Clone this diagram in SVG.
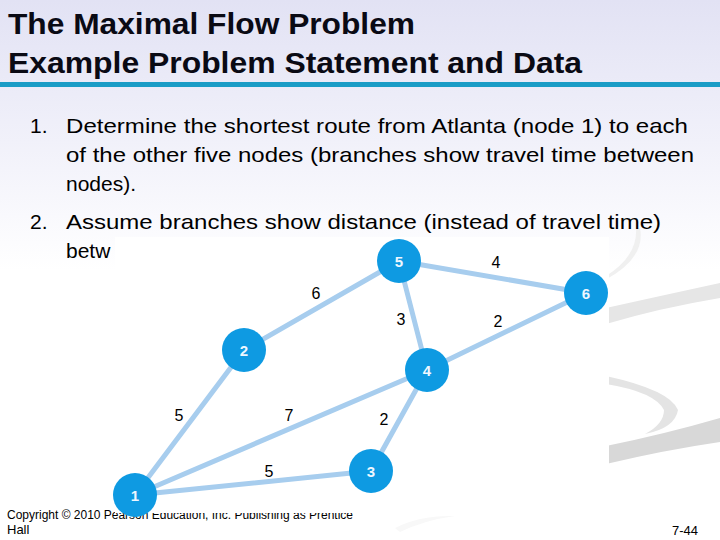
<svg xmlns="http://www.w3.org/2000/svg" width="720" height="540" viewBox="0 0 720 540">
<defs>
<linearGradient id="bg" x1="0" y1="0" x2="0" y2="540" gradientUnits="userSpaceOnUse">
<stop offset="0" stop-color="#e2e2f4"/>
<stop offset="0.4" stop-color="#f9f9fd"/>
<stop offset="0.5" stop-color="#ffffff"/>
</linearGradient>
<style>
.title{font-family:"Liberation Sans",Arial,sans-serif;font-weight:bold;font-size:29px;fill:#0a0a14}
.body{font-family:"Liberation Sans",Arial,sans-serif;font-size:21px;fill:#000}
.small{font-family:"Liberation Sans",Arial,sans-serif;font-size:13px;fill:#000}
.edge{stroke:#a7cdee;stroke-width:5;fill:none;stroke-linecap:round}
.node circle{fill:#0e9ae2}
.node text{font-family:"Liberation Sans",Arial,sans-serif;font-weight:bold;font-size:15px;fill:#eef7ff;text-anchor:middle}
.lbl{font-family:"Liberation Sans",Arial,sans-serif;font-size:16px;fill:#000;text-anchor:middle}
</style>
</defs>
<rect x="0" y="0" width="720" height="540" fill="url(#bg)"/>
<!-- decorative swoosh -->
<g id="swoosh">
<path d="M640 228 Q646 258 605 280 L606 276 Q638 256 636 228 Z" fill="#f0f0f0"/>
<path d="M606 308 Q660 296 720 283 L720 298 Q660 308 606 324 Z" fill="#e6e6e6"/>
<path d="M606 376 Q670 390 678 410 Q675 428 645 434 Q664 424 664 410 Q655 392 606 384 Z" fill="#e4e4e4"/>
<path d="M606 446 Q665 434 720 418 L720 442 Q665 450 606 464 Z" fill="#d8d8d8"/>
<path d="M395 528 Q420 515 455 516 Q425 520 400 532 Z" fill="#f8f8f8"/>
</g>
<!-- title -->
<text class="title" x="8" y="34" textLength="407" lengthAdjust="spacingAndGlyphs">The Maximal Flow Problem</text>
<text class="title" x="8" y="73" textLength="574" lengthAdjust="spacingAndGlyphs">Example Problem Statement and Data</text>
<rect x="0" y="82" width="720" height="5" fill="#1a9cc6"/>
<!-- body -->
<text class="body" x="30" y="133">1.</text>
<text class="body" x="66" y="133" textLength="622" lengthAdjust="spacingAndGlyphs">Determine the shortest route from Atlanta (node 1) to each</text>
<text class="body" x="66" y="162" textLength="628" lengthAdjust="spacingAndGlyphs">of the other five nodes (branches show travel time between</text>
<text class="body" x="66" y="191">nodes).</text>
<text class="body" x="30" y="229">2.</text>
<text class="body" x="66" y="229" textLength="595" lengthAdjust="spacingAndGlyphs">Assume branches show distance (instead of travel time)</text>
<text class="body" x="66" y="258">betw</text>
<!-- footer -->
<text class="small" x="7" y="519" textLength="346" lengthAdjust="spacingAndGlyphs">Copyright © 2010 Pearson Education, Inc. Publishing as Prentice</text>
<text class="small" x="7" y="534">Hall</text>
<text class="small" x="672" y="535">7-44</text>
<!-- graph picture background -->
<rect x="115" y="237" width="494" height="276" fill="#ffffff"/>
<g id="connectors">
<line class="edge" x1="135" y1="495" x2="244" y2="350"/>
<line class="edge" x1="135" y1="495" x2="427" y2="370"/>
<line class="edge" x1="135" y1="495" x2="371" y2="471"/>
<line class="edge" x1="244" y1="350" x2="399" y2="261"/>
<line class="edge" x1="399" y1="261" x2="586" y2="293"/>
<line class="edge" x1="399" y1="261" x2="427" y2="370"/>
<line class="edge" x1="427" y1="370" x2="586" y2="293"/>
<line class="edge" x1="427" y1="370" x2="371" y2="471"/>
</g>
<g id="edge-labels">
<text class="lbl" x="316" y="299">6</text>
<text class="lbl" x="496" y="268">4</text>
<text class="lbl" x="401" y="325">3</text>
<text class="lbl" x="498" y="327">2</text>
<text class="lbl" x="179" y="421">5</text>
<text class="lbl" x="289" y="421">7</text>
<text class="lbl" x="384" y="425">2</text>
<text class="lbl" x="269" y="477">5</text>
</g>
<g id="node1" class="node"><circle cx="135" cy="495" r="22"/><text x="135" y="501">1</text></g>
<g id="node2" class="node"><circle cx="244" cy="350" r="22"/><text x="244" y="356">2</text></g>
<g id="node3" class="node"><circle cx="371" cy="471" r="22"/><text x="371" y="477">3</text></g>
<g id="node4" class="node"><circle cx="427" cy="370" r="22"/><text x="427" y="376">4</text></g>
<g id="node5" class="node"><circle cx="399" cy="261" r="22"/><text x="399" y="267">5</text></g>
<g id="node6" class="node"><circle cx="586" cy="293" r="22"/><text x="586" y="299">6</text></g>
</svg>
